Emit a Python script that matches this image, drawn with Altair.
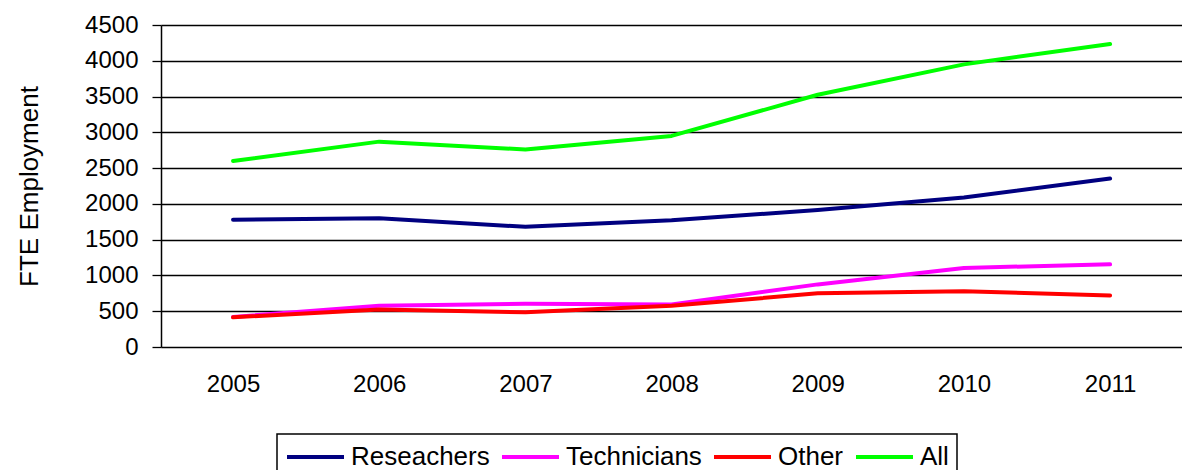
import altair as alt
import pandas as pd

years = [2005, 2006, 2007, 2008, 2009, 2010, 2011]
series_names = ["Reseachers", "Technicians", "Other", "All"]
researchers = [1780, 1800, 1680, 1770, 1915, 2090, 2355]
technicians = [420, 575, 605, 595, 875, 1105, 1155]
other = [415, 525, 485, 575, 750, 780, 720]
all_staff = [2600, 2870, 2760, 2950, 3525, 3950, 4235]
colors = ["#000080", "#FF00FF", "#FF0000", "#00FF00"]
y_ticks = [0, 500, 1000, 1500, 2000, 2500, 3000, 3500, 4000, 4500]

rows = []
for name, vals in zip(series_names, [researchers, technicians, other, all_staff]):
    for yr, v in zip(years, vals):
        rows.append({"Year": yr, "Value": v, "Series": name})
df = pd.DataFrame(rows)

FONT = "Liberation Sans"

chart = alt.Chart(df).mark_line(strokeWidth=4, strokeCap="round", strokeJoin="round").encode(
    x=alt.X("Year:Q",
            scale=alt.Scale(domain=[2004.507, 2011.492], nice=False, zero=False),
            axis=alt.Axis(values=years, format="d", title=None, grid=False, ticks=False,
                          tickSize=0, domain=False, labelPadding=25,
                          labelFontSize=24, labelFont=FONT, labelColor="black")),
    y=alt.Y("Value:Q",
            scale=alt.Scale(domain=[0, 4500], nice=False),
            axis=alt.Axis(values=y_ticks, format="d", title="FTE Employment", grid=True,
                          gridColor="black", gridWidth=1.3, gridOpacity=1, ticks=True,
                          tickSize=9, tickColor="black", tickWidth=1.3, domain=True,
                          domainColor="black", domainWidth=1.5,
                          labelPadding=14, labelFontSize=24, labelFont=FONT, labelColor="black",
                          titleFontSize=26, titleFont=FONT, titleFontWeight="normal",
                          titleColor="black", titlePadding=42)),
    color=alt.Color("Series:N",
                    scale=alt.Scale(domain=series_names, range=colors),
                    legend=alt.Legend(title=None, orient="none", direction="horizontal",
                                      legendX=116, legendY=409,
                                      symbolType="M-1,0H3.385", symbolSize=676,
                                      symbolStrokeWidth=4, labelFontSize=26, labelFont=FONT,
                                      labelColor="black", labelOffset=36, columnPadding=4,
                                      padding=8, strokeColor="black", fillColor="white",
                                      labelLimit=300)),
).properties(
    width=1021, height=322,
    autosize=alt.AutoSizeParams(type="none"),
    padding={"left": 153, "top": 17, "right": 0, "bottom": 123},
).configure_view(stroke=None).configure_legend(strokeWidth=1.5)

chart.save("out.html", embed_options={"renderer": "svg", "actions": False})
